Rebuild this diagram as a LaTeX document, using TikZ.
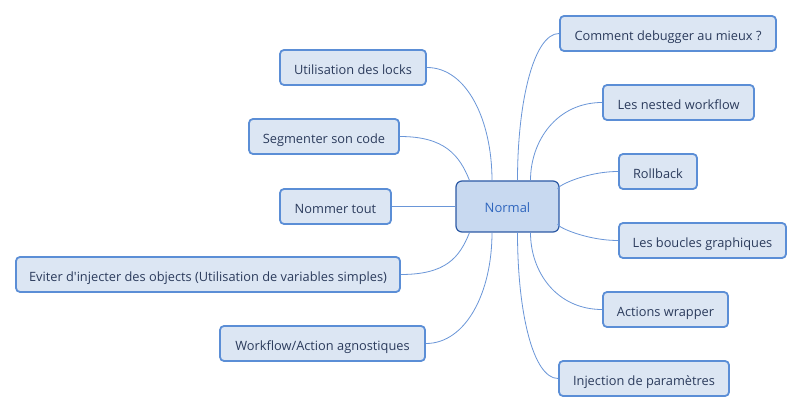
\documentclass[tikz,border=0pt]{standalone}
\usepackage{fontspec}
\setmainfont{Open Sans}
\definecolor{boxfill}{HTML}{DCE6F3}
\definecolor{boxline}{HTML}{5B8ED6}
\definecolor{boxtext}{HTML}{2B3B5C}
\definecolor{cfill}{HTML}{C8D9F0}
\definecolor{cline}{HTML}{2D5AA5}
\definecolor{ctext}{HTML}{2F66BE}
\definecolor{link}{HTML}{6A96D8}
\begin{document}
\begin{tikzpicture}[x=1pt,y=-1pt,
  topic/.style={draw=boxline,line width=1.8pt,fill=boxfill,rounded corners=4pt,
    text=boxtext,font=\fontsize{12.8}{15}\selectfont,minimum height=35pt,inner sep=0pt,
    text height=14pt,text depth=0pt,anchor=center},
  central/.style={draw=cline,line width=1.2pt,fill=cfill,rounded corners=6pt,
    text=ctext,font=\fontsize{13}{15}\selectfont,minimum width=103pt,minimum height=51pt,inner sep=0pt,
    text height=12pt,text depth=0pt},
  conn/.style={draw=link,line width=0.8pt}]
\useasboundingbox (0,0) rectangle (804,414);
\fill[white] (0,0) rectangle (804,414);
\node[central] (c) at (507.5,206.5) {Normal};
\node[topic,minimum width=146pt] (l1) at (353,67.5) {Utilisation des locks};
\node[topic,minimum width=150pt] (l2) at (324,136.5) {Segmenter son code};
\node[topic,minimum width=111pt] (l3) at (335.5,206.5) {Nommer tout};
\node[topic,minimum width=384pt] (l4) at (208,274.5) {Eviter d\textquotesingle injecter des objects (Utilisation de variables simples)};
\node[topic,minimum width=205pt] (l5) at (322.5,343.5) {Workflow/Action agnostiques};
\node[topic,minimum width=216pt] (r1) at (668,33.5) {Comment debugger au mieux ?};
\node[topic,minimum width=151pt] (r2) at (678.5,102.5) {Les nested workflow};
\node[topic,minimum width=78pt] (r3) at (658,171.5) {Rollback};
\node[topic,minimum width=167pt] (r4) at (702.5,240.5) {Les boucles graphiques};
\node[topic,minimum width=125pt] (r5) at (665.5,309.5) {Actions wrapper};
\node[topic,minimum width=170pt] (r6) at (644,378.5) {Injection de paramètres};
\coordinate (cl1) at ([xshift=-15.5pt]c.north);
\coordinate (cl2) at ([xshift=-38pt]c.north);
\coordinate (cl4) at ([xshift=-38pt]c.south);
\coordinate (cl5) at ([xshift=-15.5pt]c.south);
\coordinate (cr1) at ([xshift=10pt]c.north);
\coordinate (cr2) at ([xshift=23pt]c.north);
\coordinate (cr3) at ([yshift=-9pt]c.north east);
\coordinate (cr4) at ([yshift=9pt]c.south east);
\coordinate (cr5) at ([xshift=23pt]c.south);
\coordinate (cr6) at ([xshift=10pt]c.south);
\draw[conn] (l1.east) .. controls +(40,0) and +(0,-60) .. (cl1);
\draw[conn] (l2.east) .. controls +(45,0) and +(-10,-25) .. (cl2);
\draw[conn] (l3.east) -- (c.west);
\draw[conn] (l4.east) .. controls +(45,0) and +(-10,25) .. (cl4);
\draw[conn] (l5.east) .. controls +(40,0) and +(0,60) .. (cl5);
\draw[conn] (r1.west) .. controls +(-25,0) and +(0,-80) .. (cr1);
\draw[conn] (r2.west) .. controls +(-45,0) and +(0,-40) .. (cr2);
\draw[conn] (r3.west) .. controls +(-35,0) and +(-10,0) .. (cr3);
\draw[conn] (r4.west) .. controls +(-35,0) and +(-10,0) .. (cr4);
\draw[conn] (r5.west) .. controls +(-45,0) and +(0,40) .. (cr5);
\draw[conn] (r6.west) .. controls +(-25,0) and +(0,80) .. (cr6);
\end{tikzpicture}
\end{document}
